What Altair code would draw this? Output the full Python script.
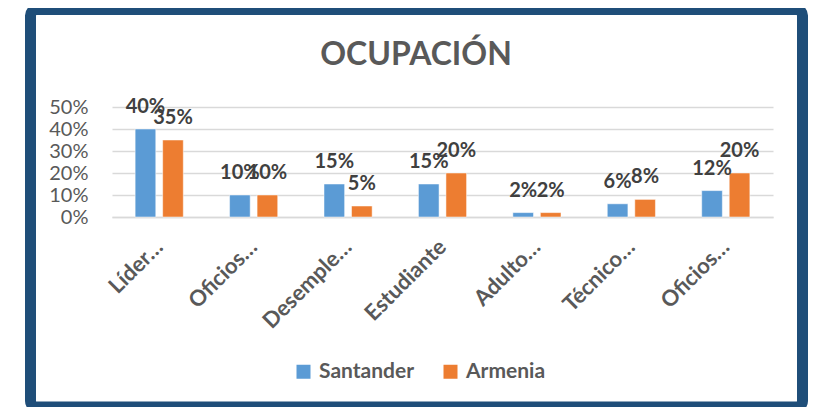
import altair as alt
import pandas as pd

categories = ["Líder…", "Oficios…", "Desemple…", "Estudiante", "Adulto…", "Técnico…", "Oficios…"]
santander = [0.40, 0.10, 0.15, 0.15, 0.02, 0.06, 0.12]
armenia = [0.35, 0.10, 0.05, 0.20, 0.02, 0.08, 0.20]
series = ["Santander", "Armenia"]
colors = ["#5B9BD5", "#ED7D31"]
y_ticks = [0, 0.1, 0.2, 0.3, 0.4, 0.5]
chart_title = "OCUPACIÓN"

rows = []
for i, c in enumerate(categories):
    rows.append({"idx": i, "serie": series[0], "valor": santander[i]})
    rows.append({"idx": i, "serie": series[1], "valor": armenia[i]})
df = pd.DataFrame(rows)

label_expr = "[" + ",".join("'" + c + "'" for c in categories) + "][datum.value]"

FONT = "Lato"
GRAY = "#595959"

x_enc = alt.X(
    "idx:O",
    title=None,
    scale=alt.Scale(paddingInner=0.49, paddingOuter=0.245),
    axis=alt.Axis(
        labelExpr=label_expr,
        labelAngle=-45,
        labelAlign="right",
        labelBaseline="middle",
        labelOffset=0,
        labelPadding=26,
        labelFont=FONT,
        labelFontSize=22,
        labelFontWeight="bold",
        labelColor=GRAY,
        labelOverlap=False,
        ticks=False,
        domainColor="#D9D9D9",
        domainWidth=1.5,
    ),
)
xoff = alt.XOffset("serie:N", sort=series, scale=alt.Scale(paddingInner=0.25, paddingOuter=0))
y_enc = alt.Y(
    "valor:Q",
    title=None,
    scale=alt.Scale(domain=[0, 0.5]),
    axis=alt.Axis(
        values=y_ticks,
        format=".0%",
        labelFont=FONT,
        labelFontSize=20,
        labelColor=GRAY,
        labelPadding=24,
        labelOverlap=False,
        labelBound=False,
        ticks=False,
        domain=False,
        gridColor="#D9D9D9",
        gridWidth=1.5,
    ),
)

bars = alt.Chart(df).mark_bar(stroke="white", strokeWidth=0.5).encode(
    x=x_enc,
    xOffset=xoff,
    y=y_enc,
    color=alt.Color(
        "serie:N",
        sort=series,
        scale=alt.Scale(domain=series, range=colors),
        legend=alt.Legend(
            title=None,
            orient="none",
            legendX=181,
            legendY=254,
            direction="horizontal",
            symbolType="square",
            symbolSize=196,
            symbolStrokeWidth=0,
            labelFont=FONT,
            labelFontSize=21,
            labelFontWeight="bold",
            labelColor=GRAY,
            labelOffset=5,
            columnPadding=25,
            padding=0,
        ),
    ),
)

labels = alt.Chart(df).mark_text(
    font=FONT, fontSize=20, fontWeight="bold", color="#404040",
    baseline="alphabetic", dy=-16,
).encode(
    x=x_enc,
    xOffset=xoff,
    y=y_enc,
    text=alt.Text("valor:Q", format=".0%"),
)

title = alt.Chart(alt.Data(values=[{"t": chart_title}])).mark_text(
    font=FONT, fontSize=32, fontWeight="bold", color=GRAY,
    align="center", baseline="alphabetic",
).encode(
    x=alt.value(416 - 112),
    y=alt.value(65 - 107),
    text="t:N",
)

frame = alt.Chart(alt.Data(values=[{}])).mark_rect(
    filled=False, stroke="#1F4E79", strokeWidth=11, cornerRadius=6
).encode(
    x=alt.value(30.5 - 112),
    x2=alt.value(802.5 - 112),
    y=alt.value(9.5 - 107),
    y2=alt.value(407 - 107),
)

chart = alt.layer(frame, title, bars, labels).properties(
    width=661,
    height=110,
    autosize=alt.AutoSizeParams(type="none"),
    padding={"left": 104, "top": 99, "right": 35, "bottom": 190},
    background="white",
).configure_view(stroke=None)

chart.save("out.html", embed_options={"renderer": "svg", "actions": False})
